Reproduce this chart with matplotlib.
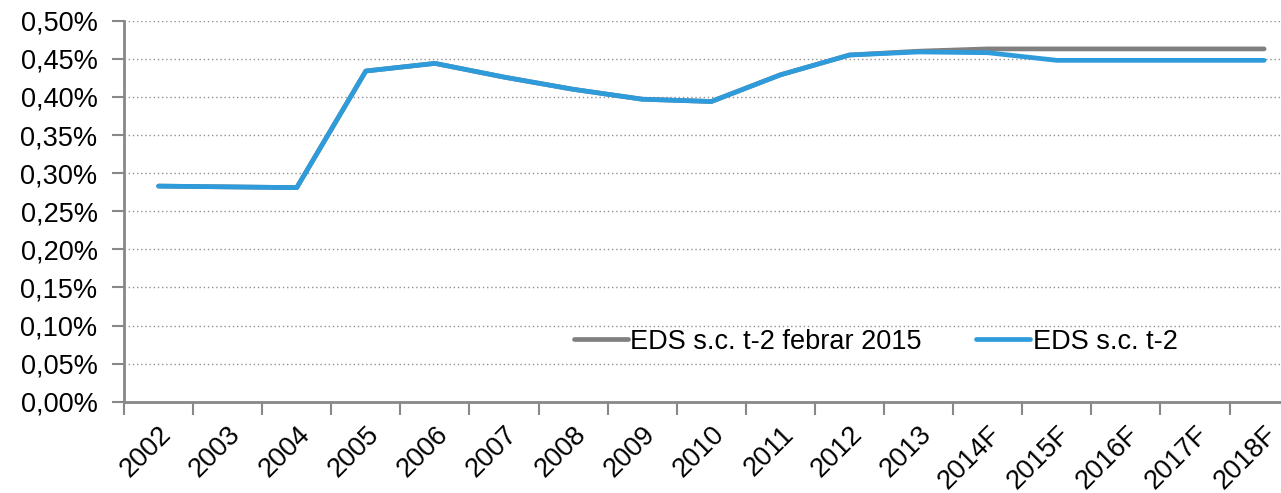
import matplotlib
matplotlib.use("Agg")
import matplotlib.pyplot as plt
from matplotlib.ticker import FuncFormatter, FixedLocator

years = ["2002", "2003", "2004", "2005", "2006", "2007", "2008", "2009", "2010",
         "2011", "2012", "2013", "2014F", "2015F", "2016F", "2017F", "2018F"]
eds_feb2015 = [0.283, 0.282, 0.281, 0.434, 0.444, 0.426, 0.410, 0.397, 0.394,
               0.429, 0.455, 0.460, 0.463, 0.463, 0.463, 0.463, 0.463]
eds_t2 = [0.283, 0.282, 0.281, 0.434, 0.444, 0.426, 0.410, 0.397, 0.394,
          0.429, 0.455, 0.459, 0.458, 0.448, 0.448, 0.448, 0.448]

plt.rcParams["font.family"] = ["Liberation Sans", "DejaVu Sans"]
fs = 19.5

fig = plt.figure(figsize=(12.81, 4.93), dpi=100)
ax = fig.add_axes([0.0968, 0.185, 0.917, 0.773])

x = list(range(len(years)))
ax.plot(x, eds_feb2015, color="#808080", lw=3.4, solid_capstyle="round",
        label="EDS s.c. t-2 febrar 2015")
ax.plot(x, eds_t2, color="#2E9BDB", lw=3.4, solid_capstyle="round",
        label="EDS s.c. t-2")

ax.set_xlim(-0.5, len(years) - 0.5)
ax.set_ylim(0, 0.5)
ax.set_yticks([i * 0.05 for i in range(11)])
ax.yaxis.set_major_formatter(FuncFormatter(lambda v, p: f"{v:.2f}%".replace(".", ",")))
ax.yaxis.grid(True, linestyle=(0, (1, 2)), color="#909090", lw=1.0)
ax.set_axisbelow(True)

ax.set_xticks(x)
ax.set_xticklabels(years, rotation=45, ha="right", rotation_mode="anchor")
ax.xaxis.set_minor_locator(FixedLocator([i - 0.5 for i in range(len(years) + 1)]))
ax.tick_params(axis="x", which="major", length=0, pad=14, labelsize=fs)
ax.tick_params(axis="x", which="minor", length=9, width=1.5, color="#888888")
ax.tick_params(axis="y", length=9, width=1.5, color="#888888", labelsize=fs, pad=10)

for s in ["top", "right"]:
    ax.spines[s].set_visible(False)
for s in ["left", "bottom"]:
    ax.spines[s].set_color("#888888")
    ax.spines[s].set_linewidth(2)

ax.legend(loc="center left", bbox_to_anchor=(0.362, 0.158), ncol=2, frameon=False,
          fontsize=fs, handlelength=2.0, handletextpad=0.1, columnspacing=2.0)

fig.savefig("out.png", dpi=100)
